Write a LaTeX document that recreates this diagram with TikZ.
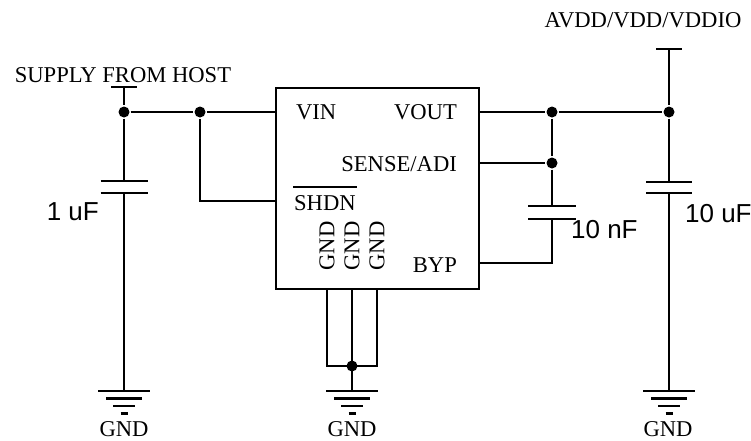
\documentclass[tikz,border=0pt]{standalone}
\usepackage{fontspec}
\setmainfont{Liberation Serif}
\newfontfamily\arialf{Liberation Sans}
\begin{document}
\begin{tikzpicture}[x=1pt,y=-1pt,line width=2.3pt,
  lbl/.style={font=\fontsize{22.6}{24}\selectfont, inner sep=0pt},
  val/.style={font=\arialf\fontsize{26}{28}\selectfont, inner sep=0pt},
  dot/.style={circle, fill, inner sep=0pt, minimum size=11pt},
  chipbox/.style={draw, rectangle, inner sep=0pt, minimum width=203pt, minimum height=201pt},
  gndsym/.pic={\draw (-26,0)--(26,0) (-18,7.5)--(18,7.5) (-11,15)--(11,15) (-3.5,22.5)--(3.5,22.5);}]
\useasboundingbox (0,0) rectangle (751,440);

% chip
\node[chipbox] (chip) at (377.5,188.5) {};
\node[lbl,anchor=base west] (vinl) at (295,119.5) {VIN};
\node[lbl,anchor=base east] (voutl) at (458,119.5) {VOUT};
\node[lbl,anchor=base east] (sensel) at (458,171) {SENSE/ADI};
\node[lbl,anchor=base west] (shdnl) at (293,210) {SHDN};
\draw[line width=2pt] ([yshift=6.5pt]shdnl.north west) -- ([yshift=6.5pt]shdnl.north east);
\node[lbl,anchor=base east] (bypl) at (458,272) {BYP};
\node[lbl,rotate=90] (g1l) at (327,246) {GND};
\node[lbl,rotate=90] (g2l) at (352,246) {GND};
\node[lbl,rotate=90] (g3l) at (377,246) {GND};

% coordinates
\coordinate (vin) at (276,112);
\coordinate (shdn) at (276,201);
\coordinate (vout) at (479,112);
\coordinate (sense) at (479,163);
\coordinate (byp) at (479,263);
\coordinate (p1) at (327,289);
\coordinate (p2) at (352,289);
\coordinate (p3) at (377,289);

% left supply
\coordinate (stop) at (124,87);
\draw (111,87) -- (137,87);
\node[lbl,anchor=base] (supl) at (123,82) {SUPPLY FROM HOST};
\node[dot] (j1) at (124,112) {};
\node[dot] (j2) at (200,112) {};
\coordinate (c1t) at (124,181);
\coordinate (c1b) at (124,193);
\coordinate (g1) at (124,391);
\draw (stop) -- (j1) -- (c1t);
\draw (c1t) ++(-23.5,0) -- ++(47,0);
\draw (c1b) ++(-23.5,0) -- ++(47,0);
\draw (c1b) -- (g1);
\pic at (g1) {gndsym};
\node[lbl,anchor=base] (gl1) at (124,436) {GND};
\node[val,anchor=base east] (c1v) at (100,220) {1 uF};
\draw (j1) -- (j2) -- (vin);
\draw (j2) |- (shdn);

% GND pins
\coordinate (gb1) at (327,366);
\coordinate (gb3) at (377,366);
\node[dot] (j6) at (352,366) {};
\coordinate (g2) at (352,391);
\draw (p1) -- (gb1) -- (gb3) -- (p3);
\draw (p2) -- (g2);
\pic at (g2) {gndsym};
\node[lbl,anchor=base] (gl2) at (352,436) {GND};

% right side
\node[dot] (j3) at (552,112) {};
\node[dot] (j4) at (669,112) {};
\node[dot] (j5) at (552,163) {};
\draw (vout) -- (j3) -- (j4);
\draw (sense) -- (j5);
\coordinate (c2t) at (552,206);
\coordinate (c2b) at (552,219);
\coordinate (c2c) at (552,263);
\draw (j3) -- (j5) -- (c2t);
\draw (c2t) ++(-24,0) -- ++(48,0);
\draw (c2b) ++(-24,0) -- ++(48,0);
\draw (c2b) -- (c2c) -- (byp);
\node[val,anchor=base west] (c2v) at (570,238) {10 nF};

\coordinate (vtop) at (669,49);
\draw (656,49) -- (682,49);
\node[lbl,anchor=base] (avl) at (643,27) {AVDD/VDD/VDDIO};
\coordinate (c3t) at (669,182);
\coordinate (c3b) at (669,193);
\coordinate (g3) at (669,391);
\draw (vtop) -- (j4) -- (c3t);
\draw (c3t) ++(-23,0) -- ++(46,0);
\draw (c3b) ++(-23,0) -- ++(46,0);
\draw (c3b) -- (g3);
\pic at (g3) {gndsym};
\node[lbl,anchor=base] (gl3) at (668,436) {GND};
\node[val,anchor=base west] (c3v) at (684,222) {10 uF};
\end{tikzpicture}
\end{document}
